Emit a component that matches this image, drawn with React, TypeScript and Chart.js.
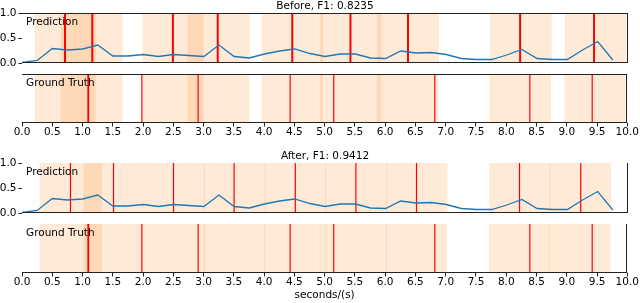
import React, { useEffect, useRef } from "react";
import { Chart, registerables } from "chart.js";
Chart.register(...registerables);

// ---- data ----
const times = [0, 0.25, 0.5, 0.75, 1.0, 1.25, 1.5, 1.75, 2.0, 2.25, 2.5, 2.75, 3.0, 3.25, 3.5, 3.75, 4.0, 4.25, 4.5, 4.75,
  5.0, 5.25, 5.5, 5.75, 6.0, 6.25, 6.5, 6.75, 7.0, 7.25, 7.5, 7.75, 8.0, 8.25, 8.5, 8.75, 9.0, 9.25, 9.5, 9.75];
const probs = [0.01, 0.05, 0.29, 0.26, 0.28, 0.36, 0.14, 0.14, 0.17, 0.13, 0.17, 0.15, 0.13, 0.36, 0.13, 0.10, 0.18, 0.24, 0.28, 0.19,
  0.13, 0.18, 0.18, 0.10, 0.09, 0.24, 0.20, 0.21, 0.17, 0.09, 0.07, 0.07, 0.16, 0.27, 0.09, 0.07, 0.07, 0.26, 0.43, 0.06];

const beforePredOnsets = [0.71, 1.16, 2.49, 3.23, 4.46, 5.42, 6.37, 8.22, 9.44];
const afterPredOnsets = [0.80, 1.51, 2.50, 3.50, 4.51, 5.51, 6.51, 8.21, 9.22];
const truthOnsets = [1.09, 1.10, 1.98, 2.91, 4.43, 5.15, 6.82, 8.39, 9.42];

const beforeSpanStarts = [0.21, 0.64, 1.99, 2.73, 3.96, 4.92, 5.86, 7.72, 8.96];
const beforeSpanEnds = [1.22, 1.66, 3.00, 3.76, 4.97, 5.93, 6.88, 8.74, 9.97];
const afterSpanStarts = [0.29, 1.01, 3.00, 4.00, 5.00, 6.01, 7.71, 8.70];
const afterSpanEnds = [1.32, 3.02, 4.02, 5.02, 6.03, 7.02, 8.72, 9.72];

const xTickStep = 0.5;
const yTickStep = 0.5;
const beforeTitle = "Before, F1: 0.8235";
const afterTitle = "After, F1: 0.9412";
const predLabel = "Prediction";
const truthLabel = "Ground Truth";
const xLabel = "seconds/(s)";

// ---- styles ----
const FONT = '"DejaVu Sans", "Liberation Sans", sans-serif';
const FONT_SIZE = 10.5;
const SPAN_COLOR = "rgba(255,127,14,0.16)";
const LINE_BLUE = "#1f77b4";
const SPINE = "#222";

type PanelOpts = {
  starts: number[];
  ends: number[];
  onsets: number[];
  onsetWidth: number;
  spines: { top: boolean; bottom: boolean; right: boolean; left: boolean };
  title?: string;
  label: string;
  xlabel?: string;
};

const panelPlugin = {
  id: "panel",
  beforeDatasetsDraw(chart: any, _args: any, opts: PanelOpts) {
    const { ctx, chartArea: a, scales } = chart;
    const x = scales.x;
    const y = scales.y;
    ctx.save();
    ctx.beginPath();
    ctx.rect(a.left, a.top, a.right - a.left, a.bottom - a.top);
    ctx.clip();
    const yTop = y.getPixelForValue(1);
    const yBot = y.getPixelForValue(0);
    ctx.fillStyle = SPAN_COLOR;
    opts.starts.forEach((s, i) => {
      const x0 = x.getPixelForValue(s);
      const x1 = x.getPixelForValue(opts.ends[i]);
      ctx.fillRect(x0, yTop, x1 - x0, yBot - yTop);
    });
    ctx.strokeStyle = "#ff0000";
    ctx.lineWidth = opts.onsetWidth;
    opts.onsets.forEach((t) => {
      const px = x.getPixelForValue(t);
      ctx.beginPath();
      ctx.moveTo(px, yTop);
      ctx.lineTo(px, yBot);
      ctx.stroke();
    });
    ctx.restore();
  },
  afterDraw(chart: any, _args: any, opts: PanelOpts) {
    const { ctx, chartArea: a } = chart;
    ctx.save();
    ctx.strokeStyle = SPINE;
    ctx.lineWidth = 1;
    const t = Math.round(a.top) + 0.5;
    const b = Math.round(a.bottom) - 0.5;
    const r = Math.round(a.right) - 0.5;
    const l = Math.round(a.left) + 0.5;
    ctx.beginPath();
    if (opts.spines.top) { ctx.moveTo(a.left, t); ctx.lineTo(a.right, t); }
    if (opts.spines.bottom) { ctx.moveTo(a.left, b); ctx.lineTo(a.right, b); }
    if (opts.spines.right) { ctx.moveTo(r, a.top); ctx.lineTo(r, a.bottom); }
    if (opts.spines.left) { ctx.moveTo(l, a.top); ctx.lineTo(l, a.bottom); }
    ctx.stroke();
    ctx.fillStyle = "#000";
    ctx.font = `${FONT_SIZE}px ${FONT}`;
    ctx.textBaseline = "alphabetic";
    const cx = (a.left + a.right) / 2;
    if (opts.title) {
      ctx.textAlign = "center";
      ctx.fillText(opts.title, cx, a.top - 4);
    }
    ctx.textAlign = "left";
    ctx.fillText(opts.label, a.left + 4, a.top + 12);
    if (opts.xlabel) {
      ctx.textAlign = "center";
      ctx.fillText(opts.xlabel, cx, a.bottom + 25);
    }
    ctx.restore();
  },
};

const tickFont = { family: FONT, size: FONT_SIZE, lineHeight: 1 };

function makeConfig(kind: "pred" | "truth", padding: any, panel: PanelOpts, showX: boolean) {
  const showY = kind === "pred";
  const datasets =
    kind === "pred"
      ? [{
          data: times.map((t, i) => ({ x: t, y: probs[i] })),
          borderColor: LINE_BLUE,
          borderWidth: 1.3,
          pointRadius: 0,
          tension: 0,
          fill: false,
        }]
      : [];
  const x: any = {
    type: "linear",
    min: 0,
    max: 10,
    display: showX,
    border: { display: false },
    grid: { display: true, drawOnChartArea: false, drawTicks: true, tickLength: 3.5, color: SPINE, tickColor: SPINE, tickWidth: 1 },
    ticks: {
      stepSize: xTickStep,
      autoSkip: false,
      maxRotation: 0,
      minRotation: 0,
      padding: 1,
      color: "#000",
      font: tickFont,
      callback: (v: any) => Number(v).toFixed(1),
    },
  };
  if (showX) x.afterFit = (s: any) => { s.height = 22; };
  const y: any = {
    type: "linear",
    min: 0,
    max: 1,
    display: showY,
    border: { display: false },
    grid: { display: true, drawOnChartArea: false, drawTicks: true, tickLength: 3.5, color: SPINE, tickColor: SPINE, tickWidth: 1 },
    ticks: {
      stepSize: yTickStep,
      padding: 2,
      color: "#000",
      font: tickFont,
      callback: (v: any) => Number(v).toFixed(1),
    },
  };
  if (showY) y.afterFit = (s: any) => { s.width = 22; };
  return {
    type: "line" as const,
    data: { datasets },
    options: {
      responsive: false,
      animation: false as const,
      devicePixelRatio: 1,
      layout: { padding },
      events: [],
      plugins: {
        legend: { display: false },
        tooltip: { enabled: false },
        title: { display: false },
        panel,
      },
      scales: { x, y },
    },
    plugins: [panelPlugin],
  };
}

export default function App() {
  const r1 = useRef<HTMLCanvasElement>(null);
  const r2 = useRef<HTMLCanvasElement>(null);
  const r3 = useRef<HTMLCanvasElement>(null);
  const r4 = useRef<HTMLCanvasElement>(null);

  useEffect(() => {
    const W = 640, H = 303;
    const charts: Chart[] = [];
    const cfgs = [
      makeConfig("pred", { left: 0, right: 12, top: 13, bottom: H - 63 }, {
        starts: beforeSpanStarts, ends: beforeSpanEnds, onsets: beforePredOnsets, onsetWidth: 2,
        spines: { top: true, bottom: true, right: true, left: false }, title: beforeTitle, label: predLabel,
      }, false),
      makeConfig("truth", { left: 22, right: 12, top: 74, bottom: H - 123 - 22 }, {
        starts: beforeSpanStarts, ends: beforeSpanEnds, onsets: truthOnsets, onsetWidth: 1.2,
        spines: { top: true, bottom: true, right: true, left: false }, label: truthLabel,
      }, true),
      makeConfig("pred", { left: 0, right: 12, top: 163, bottom: H - 213 }, {
        starts: afterSpanStarts, ends: afterSpanEnds, onsets: afterPredOnsets, onsetWidth: 1.2,
        spines: { top: false, bottom: true, right: true, left: false }, title: afterTitle, label: predLabel,
      }, false),
      makeConfig("truth", { left: 22, right: 12, top: 224, bottom: H - 273 - 22 }, {
        starts: afterSpanStarts, ends: afterSpanEnds, onsets: truthOnsets, onsetWidth: 1.2,
        spines: { top: false, bottom: true, right: true, left: false }, label: truthLabel, xlabel: xLabel,
      }, true),
    ];
    [r1, r2, r3, r4].forEach((r, i) => {
      const c = r.current!;
      c.width = W;
      c.height = H;
      charts.push(new Chart(c, cfgs[i] as any));
    });
    return () => charts.forEach((c) => c.destroy());
  }, []);

  const cs: React.CSSProperties = { position: "absolute", left: 0, top: 0, width: 640, height: 303 };
  return (
    <div style={{ position: "fixed", left: 0, top: 0, width: 640, height: 303, background: "#fff", overflow: "hidden" }}>
      <canvas ref={r1} style={cs} />
      <canvas ref={r2} style={cs} />
      <canvas ref={r3} style={cs} />
      <canvas ref={r4} style={cs} />
    </div>
  );
}
